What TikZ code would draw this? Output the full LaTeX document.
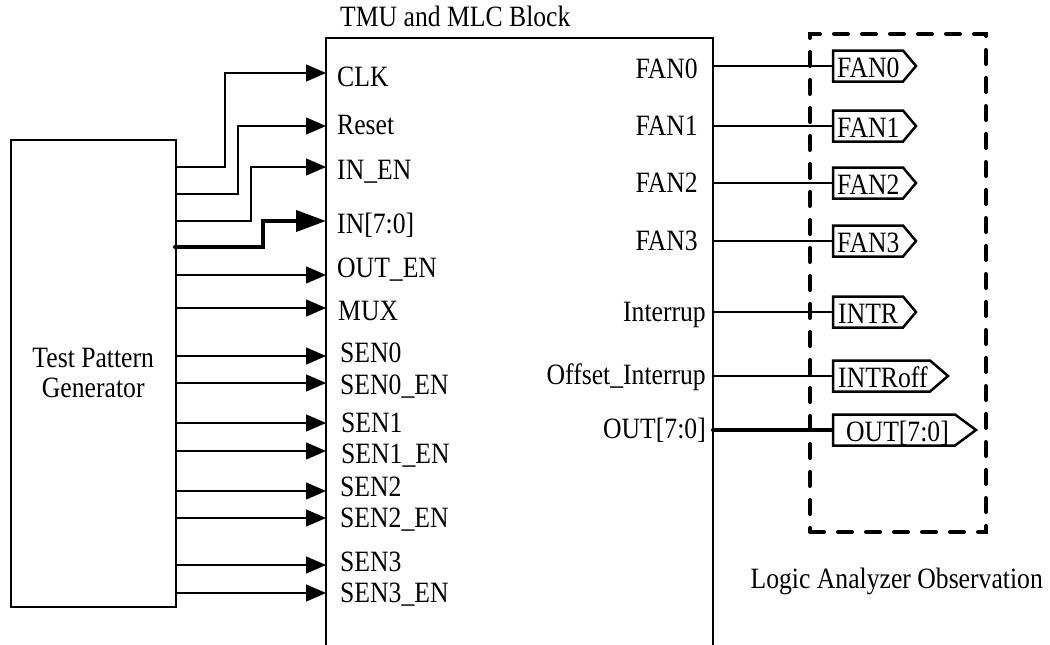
\documentclass[tikz,border=0pt]{standalone}
\usepackage{fontspec}
\setmainfont{Liberation Serif}[FakeStretch=0.87]
\usetikzlibrary{arrows.meta}
\newcommand\labfont{\fontsize{29.5}{30}\selectfont}
\begin{document}
\begin{tikzpicture}[x=1pt,y=-1pt,
  lab/.style={font=\labfont, inner sep=0pt},
  sig/.style={line width=1.3pt, -{Triangle[length=20pt,width=17pt]}},
  bus/.style={line width=4pt, line cap=round, -{Triangle[length=30pt,width=21pt]}},
  outsig/.style={line width=1.3pt},
  outbus/.style={line width=4pt, line cap=round},
  flagbox/.style={line width=2.5pt, line join=miter},
  lawin/.style={draw, line width=4pt, dash pattern=on 14pt off 14pt, line cap=round, inner sep=0pt}]
\useasboundingbox (0,0) rectangle (1050,645);

% Test pattern generator
\node[draw, line width=1.5pt, minimum width=165pt, minimum height=467pt, anchor=north west, inner sep=0pt, font=\labfont, align=center] (tpg) at (10,139) {Test Pattern\\Generator};

% TMU block (open at bottom)
\coordinate (tmuBL) at (326,645);
\coordinate (tmuTL) at (326,38);
\coordinate (tmuTR) at (713,38);
\coordinate (tmuBR) at (713,645);
\draw[line width=2pt] (tmuBL) -- (tmuTL) -- (tmuTR) -- (tmuBR);
\node[lab, anchor=base west] (title) at (340,27) {TMU and MLC Block};

% input pins
\coordinate (pCLK) at (326,73);   \coordinate (sCLK) at (175,167);
\coordinate (pRST) at (326,126);  \coordinate (sRST) at (175,194);
\coordinate (pINEN) at (326,167); \coordinate (sINEN) at (175,221);
\coordinate (pIN) at (326,221);   \coordinate (sIN) at (175,247);
\coordinate (pOUTEN) at (326,275); \coordinate (sOUTEN) at (175,275);
\coordinate (pMUX) at (326,308);  \coordinate (sMUX) at (175,308);
\coordinate (pS0) at (326,356);   \coordinate (sS0) at (175,356);
\coordinate (pS0E) at (326,383);  \coordinate (sS0E) at (175,383);
\coordinate (pS1) at (326,423);   \coordinate (sS1) at (175,423);
\coordinate (pS1E) at (326,451);  \coordinate (sS1E) at (175,451);
\coordinate (pS2) at (326,491);   \coordinate (sS2) at (175,491);
\coordinate (pS2E) at (326,518);  \coordinate (sS2E) at (175,518);
\coordinate (pS3) at (326,565);   \coordinate (sS3) at (175,565);
\coordinate (pS3E) at (326,593);  \coordinate (sS3E) at (175,593);

\draw[sig] (sCLK) -| (225,73) -- (pCLK);
\draw[sig] (sRST) -| (238,126) -- (pRST);
\draw[sig] (sINEN) -| (251,167) -- (pINEN);
\draw[bus] (sIN) -| (263,221) -- (pIN);
\draw[sig] (sOUTEN) -- (pOUTEN);
\draw[sig] (sMUX) -- (pMUX);
\draw[sig] (sS0) -- (pS0);
\draw[sig] (sS0E) -- (pS0E);
\draw[sig] (sS1) -- (pS1);
\draw[sig] (sS1E) -- (pS1E);
\draw[sig] (sS2) -- (pS2);
\draw[sig] (sS2E) -- (pS2E);
\draw[sig] (sS3) -- (pS3);
\draw[sig] (sS3E) -- (pS3E);

\node[lab, anchor=base west] (lCLK) at (337,86) {CLK};
\node[lab, anchor=base west] (lRST) at (337,134) {Reset};
\node[lab, anchor=base west] (lINEN) at (337,179) {IN\_EN};
\node[lab, anchor=base west] (lIN) at (337,233) {IN[7:0]};
\node[lab, anchor=base west] (lOUTEN) at (337,277) {OUT\_EN};
\node[lab, anchor=base west] (lMUX) at (338,320) {MUX};
\node[lab, anchor=base west] (lS0) at (340,362) {SEN0};
\node[lab, anchor=base west] (lS0E) at (340,394) {SEN0\_EN};
\node[lab, anchor=base west] (lS1) at (341,432) {SEN1};
\node[lab, anchor=base west] (lS1E) at (341,463) {SEN1\_EN};
\node[lab, anchor=base west] (lS2) at (340,496) {SEN2};
\node[lab, anchor=base west] (lS2E) at (340,527) {SEN2\_EN};
\node[lab, anchor=base west] (lS3) at (340,571) {SEN3};
\node[lab, anchor=base west] (lS3E) at (340,602) {SEN3\_EN};

% logic analyzer window
\node[lawin, minimum width=176pt, minimum height=498pt, anchor=north west] (la) at (808,32) {};
\node[lab, anchor=base east] (latext) at (1043,588) {Logic Analyzer Observation};

% output pins
\coordinate (oF0) at (713,66);   \coordinate (fF0) at (833,66);
\coordinate (oF1) at (713,126);  \coordinate (fF1) at (833,126);
\coordinate (oF2) at (713,183);  \coordinate (fF2) at (833,183);
\coordinate (oF3) at (713,241);  \coordinate (fF3) at (833,241);
\coordinate (oI) at (713,312);   \coordinate (fI) at (833,312);
\coordinate (oIO) at (713,376);  \coordinate (fIO) at (833,376);
\coordinate (oO) at (713,430);   \coordinate (fO) at (833,430);

\draw[outsig] (oF0) -- (fF0);
\draw[outsig] (oF1) -- (fF1);
\draw[outsig] (oF2) -- (fF2);
\draw[outsig] (oF3) -- (fF3);
\draw[outsig] (oI) -- (fI);
\draw[outsig] (oIO) -- (fIO);
\draw[outbus] (oO) -- (fO);

\node[lab, anchor=base east] (rF0) at (698,78) {FAN0};
\node[lab, anchor=base east] (rF1) at (698,135) {FAN1};
\node[lab, anchor=base east] (rF2) at (698,192) {FAN2};
\node[lab, anchor=base east] (rF3) at (698,250) {FAN3};
\node[lab, anchor=base east] (rI) at (706,321) {Interrup};
\node[lab, anchor=base east] (rIO) at (706,384) {Offset\_Interrup};
\node[lab, anchor=base east] (rO) at (706,438) {OUT[7:0]};

% flags
\draw[flagbox, fill=white] (833,50.5) -- (903,50.5) -- (916,66) -- (903,81.5) -- (833,81.5) -- cycle;
\draw[flagbox, fill=white] (833,110.5) -- (903,110.5) -- (916,126) -- (903,141.5) -- (833,141.5) -- cycle;
\draw[flagbox, fill=white] (833,167.5) -- (903,167.5) -- (916,183) -- (903,198.5) -- (833,198.5) -- cycle;
\draw[flagbox, fill=white] (833,225.5) -- (903,225.5) -- (916,241) -- (903,256.5) -- (833,256.5) -- cycle;
\draw[flagbox, fill=white] (833,296.5) -- (903,296.5) -- (916,312) -- (903,327.5) -- (833,327.5) -- cycle;
\draw[flagbox, fill=white] (833,360.5) -- (930,360.5) -- (948,376) -- (930,391.5) -- (833,391.5) -- cycle;
\draw[flagbox, fill=white] (833,414.5) -- (955,414.5) -- (976,430) -- (955,445.5) -- (833,445.5) -- cycle;

\node[lab, anchor=base west] (gF0) at (837,77) {FAN0};
\node[lab, anchor=base west] (gF1) at (837,137) {FAN1};
\node[lab, anchor=base west] (gF2) at (837,194) {FAN2};
\node[lab, anchor=base west] (gF3) at (837,252) {FAN3};
\node[lab, anchor=base west] (gI) at (838,323) {INTR};
\node[lab, anchor=base west] (gIO) at (838,387) {INTRoff};
\node[lab, anchor=base west] (gO) at (846,441) {OUT[7:0]};
\end{tikzpicture}
\end{document}
